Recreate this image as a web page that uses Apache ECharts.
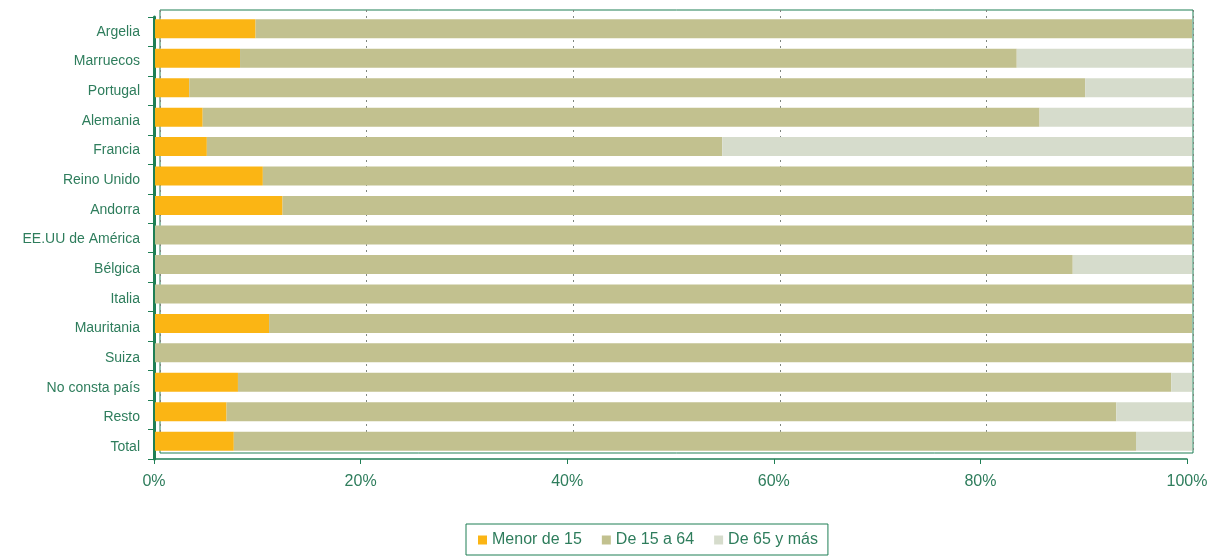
<!DOCTYPE html>
<html><head><meta charset="utf-8">
<script src="https://cdn.jsdelivr.net/npm/echarts@6/dist/echarts.min.js"></script>
<style>html,body{margin:0;padding:0;background:#fff}#c{width:1211px;height:557px}</style>
</head><body><div id="c"></div>
<script>
const categories = ["Argelia","Marruecos","Portugal","Alemania","Francia","Reino Unido","Andorra","EE.UU de América","Bélgica","Italia","Mauritania","Suiza","No consta país","Resto","Total"];
const menor15 = [9.7, 8.2, 3.3, 4.6, 5.0, 10.4, 12.3, 0, 0, 0, 11.0, 0, 8.0, 6.9, 7.6];
const de15a64 = [90.3, 74.9, 86.4, 80.7, 49.7, 89.6, 87.7, 100, 88.5, 100, 89.0, 100, 90.0, 85.8, 87.0];
const de65 = [0, 16.9, 10.3, 14.7, 45.3, 0, 0, 0, 11.5, 0, 0, 0, 2.0, 7.3, 5.4];
const seriesNames = ["Menor de 15","De 15 a 64","De 65 y más"];
const colors = ["#FBB514","#C2C18F","#D6DCCC"];
const txt = "#2E7D5C";
const green = "#1F7F55";
const font = "'Liberation Sans', Arial, sans-serif";

const chart = echarts.init(document.getElementById('c'));
const data = [menor15, de15a64, de65];
const hiddenCat = (g)=>({type:'category',data:categories,inverse:true,gridIndex:g,show:false});
const hiddenVal = (g)=>({type:'value',min:0,max:100,gridIndex:g,show:false});
chart.setOption({
  animation:false,
  textStyle:{fontFamily:font},
  grid:[
    {left:154,right:24,top:17,bottom:98},          // main axes
    {left:155,right:19,top:14,bottom:101},         // bars
    {left:154,right:24,top:17,bottom:95},          // category labels
    {left:160,right:18,top:10,bottom:104,show:true,borderColor:green,borderWidth:1} // back wall
  ],
  legend:{
    top:524,left:466,
    data:seriesNames,
    icon:'rect',itemWidth:9,itemHeight:9,itemGap:20,
    borderColor:green,borderWidth:1,padding:[8,10,7,12],
    textStyle:{color:txt,fontSize:16,fontFamily:font}
  },
  xAxis:[
    {type:'value',gridIndex:0,min:0,max:100,interval:20,
      axisLine:{show:true,lineStyle:{color:green,width:1.5}},
      axisTick:{show:true,length:5,lineStyle:{color:green}},
      axisLabel:{formatter:'{value}%',color:txt,fontSize:16,margin:15,fontFamily:font},
      splitLine:{show:false}},
    hiddenVal(1),
    hiddenVal(2),
    {type:'value',gridIndex:3,min:0,max:100,interval:20,
      axisLine:{show:false},axisTick:{show:false},axisLabel:{show:false},
      splitLine:{show:true,lineStyle:{color:'#7f867f',type:[2,4],width:1}}}
  ],
  yAxis:[
    {type:'category',gridIndex:0,data:categories,inverse:true,
      axisLine:{show:true,lineStyle:{color:green,width:3}},
      axisTick:{show:true,length:6,lineStyle:{color:green}},
      axisLabel:{show:false}},
    hiddenCat(1),
    {type:'category',gridIndex:2,data:categories,inverse:true,
      axisLine:{show:false},axisTick:{show:false},
      axisLabel:{color:txt,fontSize:14,margin:14,fontFamily:font}},
    {type:'value',gridIndex:3,show:false}
  ],
  series:data.map((d,i)=>({
    name:seriesNames[i],type:'bar',stack:'t',data:d,
    xAxisIndex:1,yAxisIndex:1,
    barWidth:19,
    itemStyle:{color:colors[i]},
    emphasis:{disabled:true}
  }))
});
</script></body></html>
